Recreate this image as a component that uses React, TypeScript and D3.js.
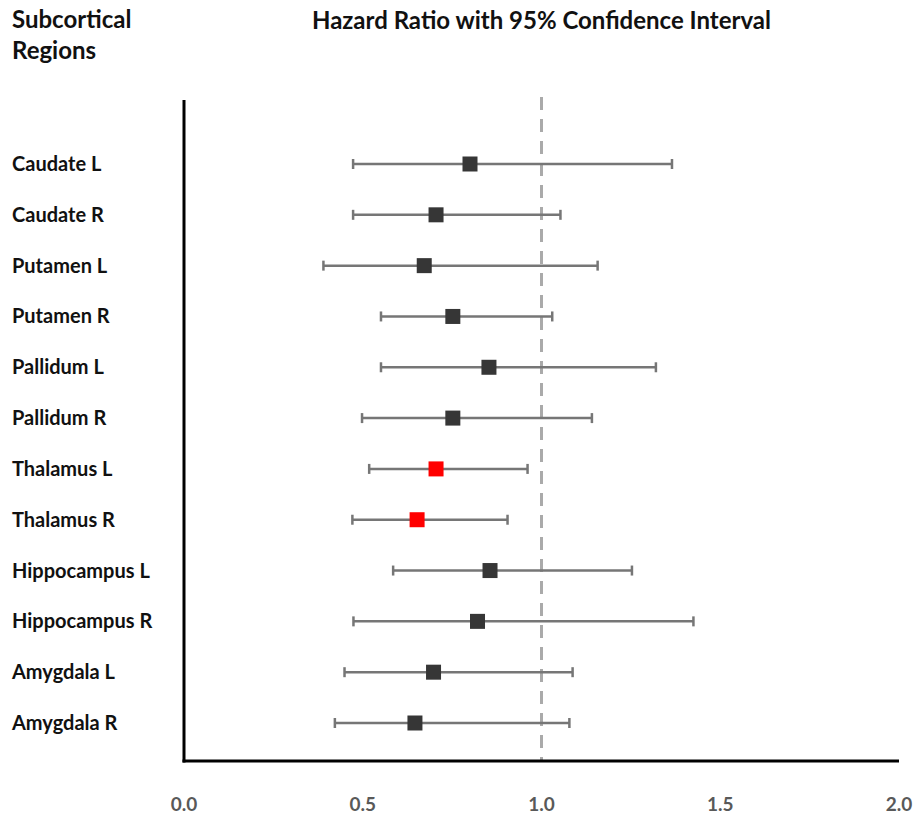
import React from "react";
import * as d3 from "d3";

const regions = [
  "Caudate L", "Caudate R", "Putamen L", "Putamen R", "Pallidum L", "Pallidum R",
  "Thalamus L", "Thalamus R", "Hippocampus L", "Hippocampus R", "Amygdala L", "Amygdala R",
];
const hazard = [0.80, 0.705, 0.672, 0.752, 0.853, 0.752, 0.705, 0.652, 0.856, 0.821, 0.698, 0.646];
const lower = [0.473, 0.473, 0.39, 0.551, 0.551, 0.498, 0.518, 0.471, 0.585, 0.474, 0.449, 0.422];
const upper = [1.365, 1.053, 1.157, 1.03, 1.32, 1.141, 0.961, 0.905, 1.253, 1.425, 1.087, 1.078];
const significant = [false, false, false, false, false, false, true, true, false, false, false, false];
const xTicks = [0, 0.5, 1.0, 1.5, 2.0];

const W = 916;
const H = 815;
const FONT = "Lato, 'Open Sans', sans-serif";

const App = () => {
  const margin = { top: 100, left: 184, right: 17, bottom: 54 };
  const x = d3.scaleLinear().domain([0, 2]).range([margin.left, W - margin.right]);
  const y = d3
    .scalePoint<string>()
    .domain(regions)
    .range([164, 723]);
  const base = H - margin.bottom;
  const sq = 15;
  const cap = 5;

  return (
    <svg width={W} height={H} style={{ position: "absolute", left: 0, top: 0, background: "#fff" }}>
      {/* headers */}
      <g fontFamily={FONT} fontWeight="bold" fill="#111" fontSize={24}>
        <text x={12} y={28}>Subcortical</text>
        <text x={12} y={59}>Regions</text>
        <text x={x(1)} y={29} textAnchor="middle">
          Hazard Ratio with 95% Confidence Interval
        </text>
      </g>

      {/* reference line at HR = 1 */}
      <line
        x1={x(1)} x2={x(1)} y1={97} y2={base}
        stroke="#aaaaaa" strokeWidth={3} strokeDasharray="13,9"
      />

      {/* axes */}
      <line x1={x(0)} x2={x(0)} y1={margin.top} y2={base + 1.5} stroke="#000" strokeWidth={3} />
      <line x1={x(0) - 1.5} x2={x(2)} y1={base} y2={base} stroke="#000" strokeWidth={3} />

      {xTicks.map((t) => (
        <text
          key={t}
          x={x(t)} y={811}
          textAnchor="middle" fontFamily={FONT} fontWeight="bold" fontSize={19} fill="#595959"
        >
          {t.toFixed(1)}
        </text>
      ))}

      {/* rows */}
      {regions.map((r, i) => {
        const cy = y(r) as number;
        return (
          <g key={r}>
            <text x={12} y={cy + 7} fontFamily={FONT} fontWeight="bold" fontSize={20} fill="#111">
              {r}
            </text>
            <line x1={x(lower[i])} x2={x(upper[i])} y1={cy} y2={cy} stroke="#767676" strokeWidth={2.5} />
            <line x1={x(lower[i])} x2={x(lower[i])} y1={cy - cap} y2={cy + cap} stroke="#767676" strokeWidth={2.5} />
            <line x1={x(upper[i])} x2={x(upper[i])} y1={cy - cap} y2={cy + cap} stroke="#767676" strokeWidth={2.5} />
            <rect
              x={x(hazard[i]) - sq / 2} y={cy - sq / 2} width={sq} height={sq}
              fill={significant[i] ? "#ff0000" : "#363636"}
            />
          </g>
        );
      })}
    </svg>
  );
};

export default App;
